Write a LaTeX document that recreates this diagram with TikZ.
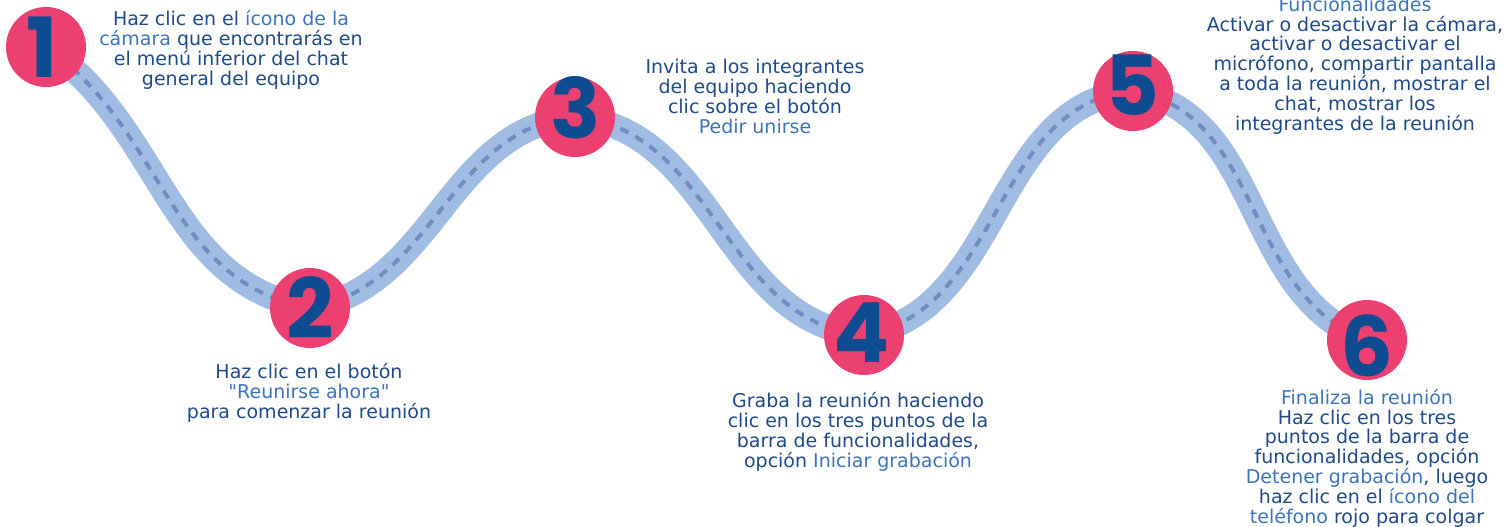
\documentclass[tikz,border=0pt]{standalone}
\usepackage{fontspec}
\setmainfont{DejaVu Sans}
\newfontfamily\numfont{Poppins}
\usetikzlibrary{backgrounds}

\definecolor{roadblue}{HTML}{A0BCE2}
\definecolor{laneblue}{HTML}{6E8DC0}
\definecolor{stoppink}{HTML}{EC4170}
\definecolor{numblue}{HTML}{0E4C92}
\definecolor{txtblue}{HTML}{1F4A8A}
\definecolor{linkblue}{HTML}{3C74BA}
\newcommand{\hl}[1]{\textcolor{linkblue}{#1}}

\tikzset{
  stop/.style={circle,fill=stoppink,minimum size=80pt,inner sep=0pt},
  num/.style={font=\numfont\bfseries\fontsize{83}{83}\selectfont,text=numblue,inner sep=0pt},
  note/.style={align=center,text=txtblue,font=\fontsize{19}{19.8}\selectfont,anchor=base,inner sep=0pt},
  road/.style={draw=roadblue,line width=25pt,
    postaction={draw=laneblue,line width=4pt,dash pattern=on 9pt off 8pt}},
}

\begin{document}
\begin{tikzpicture}[x=1pt,y=1pt]
\useasboundingbox (0,0) rectangle (1507,-527);
\clip (0,0) rectangle (1507,-527);

% stops along the road
\node[stop] (n1) at (46,-47) {};
\node[stop] (n2) at (310,-308) {};
\node[stop] (n3) at (575,-117) {};
\node[stop] (n4) at (864,-335) {};
\node[stop] (n5) at (1133,-91) {};
\node[stop] (n6) at (1367,-340) {};

\node[num] (d1) at ([xshift=-4pt]n1) {1};
\node[num] (d2) at (n2) {2};
\node[num] (d3) at ([shift={(1pt,9pt)}]n3) {3};
\node[num] (d4) at ([shift={(-2pt,2pt)}]n4) {4};
\node[num] (d5) at ([shift={(-1pt,6pt)}]n5) {5};
\node[num] (d6) at ([yshift=-6pt]n6) {6};

% the road
\begin{scope}[on background layer]
\draw[road] (n1.center) to[out=-35,in=170] (n2.center)
  to[out=10,in=185] (n3.center)
  to[out=-5,in=175] (n4.center)
  to[out=10,in=185] (n5.center)
  to[out=-10,in=160] (n6.center);
\end{scope}

% texts (anchored at the last baseline)
\node[note] (t1) at (231,-85) {Haz clic en el \hl{ícono de la}\\
  \hl{cámara} que encontrarás en\\ el menú inferior del chat\\ general del equipo};
\node[note] (t2) at (309,-418) {Haz clic en el botón\\
  \hl{\textquotedbl Reunirse ahora\textquotedbl}\\ para comenzar la reunión};
\node[note] (t3) at (755,-133) {Invita a los integrantes\\ del equipo haciendo\\
  clic sobre el botón\\ \hl{Pedir unirse}};
\node[note] (t4) at (858,-467) {Graba la reunión haciendo\\
  clic en los tres puntos de la\\ barra de funcionalidades,\\
  opción \hl{Iniciar grabación}};
\node[note] (t5) at (1355,-130) {\hl{Funcionalidades}\\
  Activar o desactivar la cámara,\\ activar o desactivar el\\
  micrófono, compartir pantalla\\ a toda la reunión, mostrar el\\
  chat, mostrar los\\ integrantes de la reunión};
\node[note] (t6) at (1367,-523) {\hl{Finaliza la reunión}\\
  Haz clic en los tres\\ puntos de la barra de\\ funcionalidades, opción\\
  \hl{Detener grabación}, luego\\ haz clic en el \hl{ícono del}\\
  \hl{teléfono} rojo para colgar};
\end{tikzpicture}
\end{document}
